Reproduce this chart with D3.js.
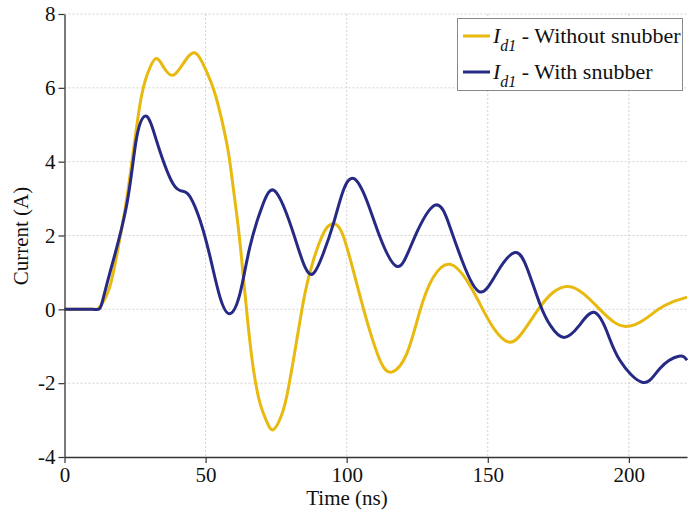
<!DOCTYPE html>
<html>
<head>
<meta charset="utf-8">
<script src="https://cdn.jsdelivr.net/npm/d3@7"></script>
<style>
  html, body { margin: 0; padding: 0; background: #fff; }
  svg { display: block; }
  svg text { font-family: "Liberation Serif", "Times New Roman", serif; }
</style>
</head>
<body>
<svg id="chart" width="700" height="513"></svg>
<script>
// Diode current Id1 over time, with and without the snubber circuit
const timeWithout = [0, 10, 12.4, 16, 19.5, 22.5, 26.6, 29.5, 32.3, 35.2, 38.4, 42, 46.2, 50, 53.5, 57.5, 59.2, 61, 62.4, 63.6, 65.1, 66.9, 69.3, 71.7, 74, 77, 79.3, 82.3, 85.2, 88.2, 91.7, 94.7, 98.2, 102.3, 107.1, 111.8, 115.9, 121.3, 126, 130.7, 136.6, 142.5, 147.2, 152, 157.8, 163, 168.2, 173, 178.4, 184, 189.7, 195, 199.6, 205, 210.5, 215.5, 220.6];
const currentWithout = [0, 0, 0.06, 0.6, 1.87, 3.22, 5.48, 6.4, 6.79, 6.55, 6.34, 6.65, 6.95, 6.5, 5.8, 4.5, 3.65, 2.59, 1.65, 0.7, -0.45, -1.6, -2.55, -3.05, -3.26, -2.85, -2.15, -0.84, 0.43, 1.33, 2.05, 2.31, 2.1, 1.06, -0.3, -1.38, -1.7, -1.2, -0.03, 0.87, 1.22, 0.79, 0.15, -0.5, -0.89, -0.55, 0.03, 0.45, 0.62, 0.42, 0.0, -0.36, -0.46, -0.3, 0.0, 0.2, 0.33];

const timeWith = [0, 10, 13, 16, 21.9, 25.4, 28.4, 30.8, 33.7, 38.4, 42, 44.5, 48, 51.6, 55.1, 58.6, 62.2, 65.7, 70.4, 74.3, 78.7, 82.3, 85.2, 88.2, 91.7, 95.3, 98.8, 102.6, 107.1, 111.8, 117.9, 123.6, 131.3, 136.6, 141.3, 147.2, 153.3, 159.6, 164, 168.4, 172.3, 177, 182.3, 187.6, 192.2, 196.8, 205, 211, 217.7, 220.6];
const currentWith = [0, 0, 0.1, 0.97, 2.77, 4.58, 5.23, 5.0, 4.31, 3.41, 3.2, 3.05, 2.42, 1.42, 0.33, -0.12, 0.43, 1.69, 2.86, 3.22, 2.59, 1.78, 1.15, 0.97, 1.51, 2.32, 3.22, 3.54, 2.95, 1.96, 1.16, 1.87, 2.82, 2.23, 1.24, 0.47, 1.0, 1.54, 1.1, 0.16, -0.45, -0.76, -0.45, -0.08, -0.6, -1.38, -1.98, -1.6, -1.27, -1.38];

const xTicks = [0, 50, 100, 150, 200];
const yTicks = [-4, -2, 0, 2, 4, 6, 8];

const seriesNames = ["Without snubber", "With snubber"];
const seriesColors = ["#e8b90e", "#262a84"];

const FONT = "Liberation Serif";
const svg = d3.select("#chart");
const plot = { left: 64.5, right: 687, top: 14, bottom: 457 };

const x = d3.scaleLinear().domain([0, 220.6]).range([plot.left, plot.right]);
const y = d3.scaleLinear().domain([-4, 8]).range([plot.bottom, plot.top]);

// dotted grid
const grid = svg.append("g").attr("stroke", "#c8c8c8").attr("stroke-width", 0.8).attr("stroke-dasharray", "2,2");
grid.selectAll(".gx").data(xTicks.slice(1)).join("line")
  .attr("x1", d => x(d)).attr("x2", d => x(d))
  .attr("y1", plot.top).attr("y2", plot.bottom);
grid.selectAll(".gy").data(yTicks.slice(1)).join("line")
  .attr("x1", plot.left).attr("x2", plot.right)
  .attr("y1", d => y(d)).attr("y2", d => y(d));

// curves
const line = d3.line().x(d => x(d[0])).y(d => y(d[1])).curve(d3.curveNatural);
const seriesData = [
  d3.zip(timeWithout, currentWithout),
  d3.zip(timeWith, currentWith)
];
svg.append("g").selectAll("path").data(seriesData).join("path")
  .attr("d", line)
  .attr("fill", "none")
  .attr("stroke", (d, i) => seriesColors[i])
  .attr("stroke-width", 3)
  .attr("stroke-linejoin", "round");

// axes
const fmt = d => String(d);
const xAxis = svg.append("g").attr("transform", `translate(0,${plot.bottom})`)
  .call(d3.axisBottom(x).tickValues(xTicks).tickFormat(fmt).tickSizeInner(6).tickSizeOuter(0).tickPadding(4));
const yAxis = svg.append("g").attr("transform", `translate(${plot.left},0)`)
  .call(d3.axisLeft(y).tickValues(yTicks).tickFormat(fmt).tickSizeInner(6).tickSizeOuter(0).tickPadding(3));
[xAxis, yAxis].forEach(a => {
  a.attr("font-family", FONT).attr("font-size", 21);
  a.select(".domain").attr("stroke", "#333").attr("stroke-width", 1.3);
  a.selectAll(".tick line").attr("stroke", "#333").attr("stroke-width", 1.2);
  a.selectAll(".tick text").attr("fill", "#111");
});

// axis titles
svg.append("text").attr("x", 347).attr("y", 505)
  .attr("text-anchor", "middle").attr("fill", "#111")
  .attr("font-family", FONT).attr("font-size", 21)
  .text("Time (ns)");
svg.append("text").attr("transform", `translate(28,236) rotate(-90)`)
  .attr("text-anchor", "middle").attr("fill", "#111")
  .attr("font-family", FONT).attr("font-size", 21)
  .text("Current (A)");

// legend
const legend = svg.append("g");
legend.append("rect").attr("x", 457.5).attr("y", 18.5).attr("width", 225).attr("height", 72)
  .attr("fill", "#fff").attr("stroke", "#888").attr("stroke-width", 1);
seriesNames.forEach((name, i) => {
  const cy = 36 + i * 36;
  legend.append("line").attr("x1", 463).attr("x2", 490).attr("y1", cy).attr("y2", cy)
    .attr("stroke", seriesColors[i]).attr("stroke-width", 3);
  const t = legend.append("text").attr("x", 493).attr("y", cy + 7).attr("fill", "#111")
    .attr("font-family", FONT).attr("font-size", 22);
  t.append("tspan").attr("font-style", "italic").text("I");
  t.append("tspan").attr("font-style", "italic").attr("dy", 8).attr("font-size", 16).text("d1");
  t.append("tspan").attr("dy", -8).text(" - " + name);
});
</script>
</body>
</html>
